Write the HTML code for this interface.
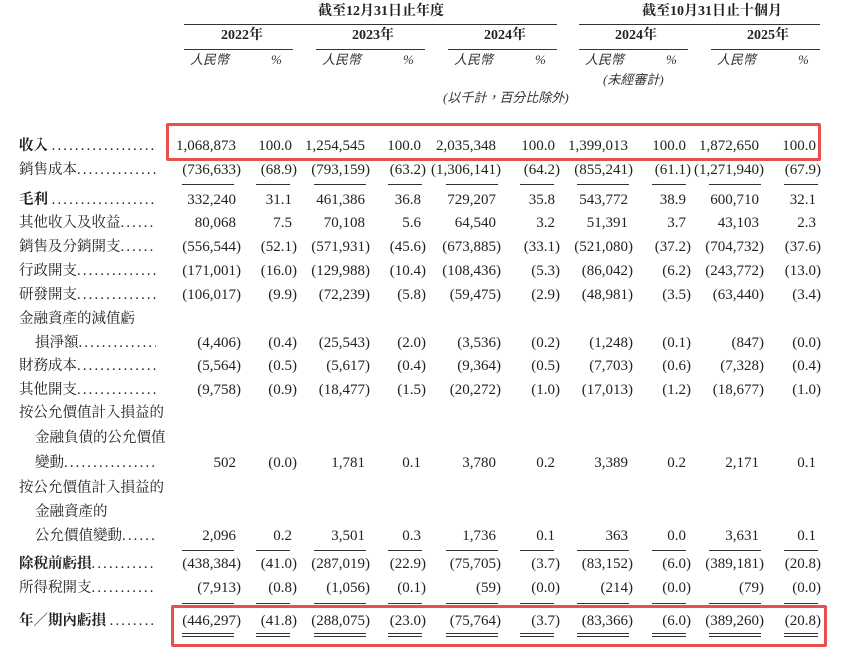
<!DOCTYPE html>
<html><head><meta charset="utf-8"><style>
body{margin:0;width:847px;height:642px;background:#fff;position:relative;overflow:hidden;font-family:"Liberation Serif","Noto Serif CJK SC",serif;color:#222;}
.a{position:absolute;white-space:nowrap;line-height:20px;height:20px}
.r{position:absolute;left:0;width:847px;height:22px;line-height:22px;font-size:15px}
.l{position:absolute;left:19px;width:137px;overflow:hidden;white-space:nowrap;font-size:14.5px;font-family:"Liberation Serif","Noto Serif CJK TC","Noto Serif CJK SC",serif}
.l.in{left:35px;width:121px}
.l s{text-decoration:none;letter-spacing:2.2px;font-family:"Liberation Serif",serif;font-weight:normal}
.r i{position:absolute;font-style:normal;width:90px;text-align:right;top:0}
.r i.p{padding-right:5px;width:85px}
.r i:nth-of-type(1){left:151px}.r i:nth-of-type(2){left:207px}
.r i:nth-of-type(3){left:280px}.r i:nth-of-type(4){left:336px}
.r i:nth-of-type(5){left:411px}.r i:nth-of-type(6){left:470px}
.r i:nth-of-type(7){left:543px}.r i:nth-of-type(8){left:601px}
.r i:nth-of-type(9){left:674px}.r i:nth-of-type(10){left:731px}
.hl{position:absolute;height:1px;background:#333}
.h{font-size:14px;font-weight:bold;font-family:"Liberation Serif","Noto Serif CJK SC",serif}
.it{font-size:13px;font-style:italic;color:#333;font-family:"Liberation Serif","Noto Sans CJK TC",serif}
.box{position:absolute;border:3px solid #e85050;border-radius:2px}
</style></head><body>
<div class="a h" style="left:318px;top:2px">截至12月31日止年度</div>
<div class="a h" style="left:642px;top:2px">截至10月31日止十個月</div>
<div class="hl" style="left:184px;width:373px;top:24px"></div>
<div class="hl" style="left:579px;width:241px;top:24px"></div>
<div class="a h" style="left:221px;top:26px">2022年</div>
<div class="a h" style="left:352px;top:26px">2023年</div>
<div class="a h" style="left:484px;top:26px">2024年</div>
<div class="a h" style="left:615px;top:26px">2024年</div>
<div class="a h" style="left:747px;top:26px">2025年</div>
<div class="hl" style="left:184px;width:109px;top:49px"></div>
<div class="hl" style="left:316px;width:109px;top:49px"></div>
<div class="hl" style="left:448px;width:109px;top:49px"></div>
<div class="hl" style="left:579px;width:109px;top:49px"></div>
<div class="hl" style="left:711px;width:109px;top:49px"></div>
<div class="a it" style="left:190px;top:50px">人民幣</div><div class="a it" style="left:271px;top:50px">%</div>
<div class="a it" style="left:322px;top:50px">人民幣</div><div class="a it" style="left:403px;top:50px">%</div>
<div class="a it" style="left:454px;top:50px">人民幣</div><div class="a it" style="left:535px;top:50px">%</div>
<div class="a it" style="left:585px;top:50px">人民幣</div><div class="a it" style="left:666px;top:50px">%</div>
<div class="a it" style="left:717px;top:50px">人民幣</div><div class="a it" style="left:798px;top:50px">%</div>
<div class="a it" style="left:603px;top:70px">(未經審計)</div>
<div class="a it" style="left:443px;top:88px">(以千計，百分比除外)</div>

<div class="r" style="top:135px"><span class="l" style="font-weight:bold">收入 <s>..............................</s></span><i class="p">1,068,873</i><i class="p">100.0</i><i class="p">1,254,545</i><i class="p">100.0</i><i class="p">2,035,348</i><i class="p">100.0</i><i class="p">1,399,013</i><i class="p">100.0</i><i class="p">1,872,650</i><i class="p">100.0</i></div>
<div class="r" style="top:159px"><span class="l">銷售成本<s>..............................</s></span><i>(736,633)</i><i>(68.9)</i><i>(793,159)</i><i>(63.2)</i><i>(1,306,141)</i><i>(64.2)</i><i>(855,241)</i><i>(61.1)</i><i>(1,271,940)</i><i>(67.9)</i></div>
<div class="r" style="top:189px"><span class="l" style="font-weight:bold">毛利 <s>..............................</s></span><i class="p">332,240</i><i class="p">31.1</i><i class="p">461,386</i><i class="p">36.8</i><i class="p">729,207</i><i class="p">35.8</i><i class="p">543,772</i><i class="p">38.9</i><i class="p">600,710</i><i class="p">32.1</i></div>
<div class="r" style="top:212px"><span class="l">其他收入及收益<s>..............................</s></span><i class="p">80,068</i><i class="p">7.5</i><i class="p">70,108</i><i class="p">5.6</i><i class="p">64,540</i><i class="p">3.2</i><i class="p">51,391</i><i class="p">3.7</i><i class="p">43,103</i><i class="p">2.3</i></div>
<div class="r" style="top:236px"><span class="l">銷售及分銷開支<s>..............................</s></span><i>(556,544)</i><i>(52.1)</i><i>(571,931)</i><i>(45.6)</i><i>(673,885)</i><i>(33.1)</i><i>(521,080)</i><i>(37.2)</i><i>(704,732)</i><i>(37.6)</i></div>
<div class="r" style="top:260px"><span class="l">行政開支<s>..............................</s></span><i>(171,001)</i><i>(16.0)</i><i>(129,988)</i><i>(10.4)</i><i>(108,436)</i><i>(5.3)</i><i>(86,042)</i><i>(6.2)</i><i>(243,772)</i><i>(13.0)</i></div>
<div class="r" style="top:284px"><span class="l">研發開支<s>..............................</s></span><i>(106,017)</i><i>(9.9)</i><i>(72,239)</i><i>(5.8)</i><i>(59,475)</i><i>(2.9)</i><i>(48,981)</i><i>(3.5)</i><i>(63,440)</i><i>(3.4)</i></div>
<div class="r" style="top:308px"><span class="l">金融資產的減值虧</span></div>
<div class="r" style="top:332px"><span class="l in">損淨額<s>..............................</s></span><i>(4,406)</i><i>(0.4)</i><i>(25,543)</i><i>(2.0)</i><i>(3,536)</i><i>(0.2)</i><i>(1,248)</i><i>(0.1)</i><i>(847)</i><i>(0.0)</i></div>
<div class="r" style="top:355px"><span class="l">財務成本<s>..............................</s></span><i>(5,564)</i><i>(0.5)</i><i>(5,617)</i><i>(0.4)</i><i>(9,364)</i><i>(0.5)</i><i>(7,703)</i><i>(0.6)</i><i>(7,328)</i><i>(0.4)</i></div>
<div class="r" style="top:379px"><span class="l">其他開支<s>..............................</s></span><i>(9,758)</i><i>(0.9)</i><i>(18,477)</i><i>(1.5)</i><i>(20,272)</i><i>(1.0)</i><i>(17,013)</i><i>(1.2)</i><i>(18,677)</i><i>(1.0)</i></div>
<div class="r" style="top:402px"><span class="l" style="width:150px">按公允價值計入損益的</span></div>
<div class="r" style="top:427px"><span class="l in" style="width:140px">金融負債的公允價值</span></div>
<div class="r" style="top:452px"><span class="l in">變動<s>..............................</s></span><i class="p">502</i><i>(0.0)</i><i class="p">1,781</i><i class="p">0.1</i><i class="p">3,780</i><i class="p">0.2</i><i class="p">3,389</i><i class="p">0.2</i><i class="p">2,171</i><i class="p">0.1</i></div>
<div class="r" style="top:477px"><span class="l" style="width:150px">按公允價值計入損益的</span></div>
<div class="r" style="top:501px"><span class="l in">金融資產的</span></div>
<div class="r" style="top:525px"><span class="l in">公允價值變動<s>..............................</s></span><i class="p">2,096</i><i class="p">0.2</i><i class="p">3,501</i><i class="p">0.3</i><i class="p">1,736</i><i class="p">0.1</i><i class="p">363</i><i class="p">0.0</i><i class="p">3,631</i><i class="p">0.1</i></div>
<div class="r" style="top:553px"><span class="l" style="font-weight:bold">除稅前虧損<s>..............................</s></span><i>(438,384)</i><i>(41.0)</i><i>(287,019)</i><i>(22.9)</i><i>(75,705)</i><i>(3.7)</i><i>(83,152)</i><i>(6.0)</i><i>(389,181)</i><i>(20.8)</i></div>
<div class="r" style="top:577px"><span class="l">所得稅開支<s>..............................</s></span><i>(7,913)</i><i>(0.8)</i><i>(1,056)</i><i>(0.1)</i><i>(59)</i><i>(0.0)</i><i>(214)</i><i>(0.0)</i><i>(79)</i><i>(0.0)</i></div>
<div class="r" style="top:610px"><span class="l" style="font-weight:bold">年／期內虧損 <s>..............................</s></span><i>(446,297)</i><i>(41.8)</i><i>(288,075)</i><i>(23.0)</i><i>(75,764)</i><i>(3.7)</i><i>(83,366)</i><i>(6.0)</i><i>(389,260)</i><i>(20.8)</i></div>

<div class="hl" style="left:182px;width:52px;top:184px"></div><div class="hl" style="left:256px;width:34px;top:184px"></div>
<div class="hl" style="left:314px;width:52px;top:184px"></div><div class="hl" style="left:388px;width:34px;top:184px"></div>
<div class="hl" style="left:446px;width:52px;top:184px"></div><div class="hl" style="left:520px;width:34px;top:184px"></div>
<div class="hl" style="left:577px;width:52px;top:184px"></div><div class="hl" style="left:652px;width:34px;top:184px"></div>
<div class="hl" style="left:709px;width:52px;top:184px"></div><div class="hl" style="left:784px;width:34px;top:184px"></div>

<div class="hl" style="left:182px;width:52px;top:550px"></div><div class="hl" style="left:256px;width:34px;top:550px"></div>
<div class="hl" style="left:314px;width:52px;top:550px"></div><div class="hl" style="left:388px;width:34px;top:550px"></div>
<div class="hl" style="left:446px;width:52px;top:550px"></div><div class="hl" style="left:520px;width:34px;top:550px"></div>
<div class="hl" style="left:577px;width:52px;top:550px"></div><div class="hl" style="left:652px;width:34px;top:550px"></div>
<div class="hl" style="left:709px;width:52px;top:550px"></div><div class="hl" style="left:784px;width:34px;top:550px"></div>

<div class="hl" style="left:182px;width:52px;top:603px"></div><div class="hl" style="left:256px;width:34px;top:603px"></div>
<div class="hl" style="left:314px;width:52px;top:603px"></div><div class="hl" style="left:388px;width:34px;top:603px"></div>
<div class="hl" style="left:446px;width:52px;top:603px"></div><div class="hl" style="left:520px;width:34px;top:603px"></div>
<div class="hl" style="left:577px;width:52px;top:603px"></div><div class="hl" style="left:652px;width:34px;top:603px"></div>
<div class="hl" style="left:709px;width:52px;top:603px"></div><div class="hl" style="left:784px;width:34px;top:603px"></div>

<div class="hl" style="left:182px;width:52px;top:633px"></div><div class="hl" style="left:256px;width:34px;top:633px"></div>
<div class="hl" style="left:314px;width:52px;top:633px"></div><div class="hl" style="left:388px;width:34px;top:633px"></div>
<div class="hl" style="left:446px;width:52px;top:633px"></div><div class="hl" style="left:520px;width:34px;top:633px"></div>
<div class="hl" style="left:577px;width:52px;top:633px"></div><div class="hl" style="left:652px;width:34px;top:633px"></div>
<div class="hl" style="left:709px;width:52px;top:633px"></div><div class="hl" style="left:784px;width:34px;top:633px"></div>
<div class="hl" style="left:182px;width:52px;top:636px"></div><div class="hl" style="left:256px;width:34px;top:636px"></div>
<div class="hl" style="left:314px;width:52px;top:636px"></div><div class="hl" style="left:388px;width:34px;top:636px"></div>
<div class="hl" style="left:446px;width:52px;top:636px"></div><div class="hl" style="left:520px;width:34px;top:636px"></div>
<div class="hl" style="left:577px;width:52px;top:636px"></div><div class="hl" style="left:652px;width:34px;top:636px"></div>
<div class="hl" style="left:709px;width:52px;top:636px"></div><div class="hl" style="left:784px;width:34px;top:636px"></div>

<div class="box" style="left:166px;top:123px;width:649px;height:32px"></div>
<div class="box" style="left:171px;top:605px;width:650px;height:36px"></div>
</body></html>
